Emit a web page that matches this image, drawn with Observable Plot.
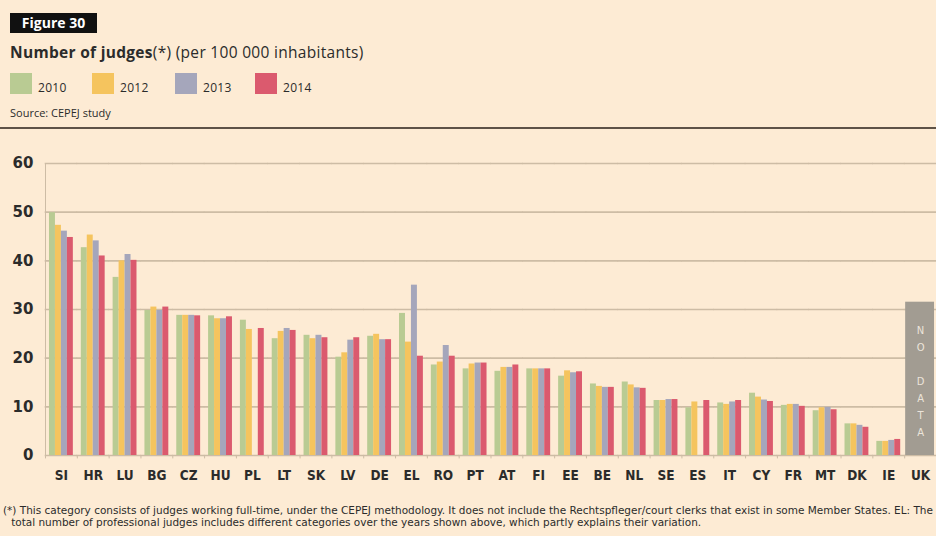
<!DOCTYPE html>
<html>
<head>
<meta charset="utf-8">
<script src="https://cdn.jsdelivr.net/npm/d3@7"></script>
<script src="https://cdn.jsdelivr.net/npm/@observablehq/plot@0.6"></script>
<style>
  html, body { margin: 0; padding: 0; background: #fdebd4; }
  #page { position: relative; width: 936px; height: 536px; overflow: hidden; background: #fdebd4; font-family: "Open Sans", "Noto Sans", sans-serif; color: #2b2b2b; }
  #fig { position: absolute; left: 10px; top: 13px; width: 87px; height: 20px; background: #111; color: #fff; font-weight: bold; font-size: 14px; line-height: 20px; text-align: center; }
  #title { position: absolute; left: 10px; top: 41px; font-size: 15.5px; white-space: nowrap; letter-spacing: 0.3px; }
  #title b { font-weight: 700; }
  #legend { position: absolute; left: 0; top: 73px; height: 22px; width: 400px; }
  .item { position: absolute; top: 0; height: 22px; font-size: 12px; letter-spacing: 0.3px; }
  .sw { position: absolute; left: 0; top: 0; width: 22px; height: 21px; }
  .lab { position: absolute; left: 28px; top: 6px; white-space: nowrap; }
  #source { position: absolute; left: 10px; top: 105px; font-size: 11px; white-space: nowrap; }
  #rule { position: absolute; left: 0; top: 127px; width: 936px; height: 2px; background: #5e5247; }
  #chart { position: absolute; left: 0; top: 140px; }
  #note { position: absolute; left: 3px; top: 505px; width: 936px; font-family: "Liberation Sans Narrow", "DejaVu Sans Condensed", sans-serif; font-size: 10px; line-height: 12px; white-space: nowrap; transform: scaleX(1.165); transform-origin: left top; }
  #note div + div { padding-left: 7px; }
</style>
</head>
<body>
<div id="page">
  <div id="fig">Figure 30</div>
  <div id="title"><b>Number of judges</b>(*) (per 100 000 inhabitants)</div>
  <div id="legend"></div>
  <div id="source">Source: CEPEJ study</div>
  <div id="rule"></div>
  <div id="chart"></div>
  <div id="note">
    <div>(*) This category consists of judges working full-time, under the CEPEJ methodology. It does not include the Rechtspfleger/court clerks that exist in some Member States. EL: The</div>
    <div>total number of professional judges includes different categories over the years shown above, which partly explains their variation.</div>
  </div>
</div>
<script>
const countries = ["SI","HR","LU","BG","CZ","HU","PL","LT","SK","LV","DE","EL","RO","PT","AT","FI","EE","BE","NL","SE","ES","IT","CY","FR","MT","DK","IE","UK"];
const years = ["2010","2012","2013","2014"];
const v2010 = [49.9,42.7,36.6,29.8,28.8,28.7,27.8,24.0,24.7,20.2,24.5,29.2,18.6,17.8,17.3,17.8,16.3,14.7,15.1,11.3,9.8,10.8,12.8,10.3,9.2,6.5,2.9,null];
const v2012 = [47.3,45.3,40.0,30.5,28.8,28.1,25.9,25.5,24.0,21.1,24.9,23.3,19.2,18.8,18.1,17.8,17.4,14.2,14.5,11.3,11.0,10.5,12.0,10.5,9.8,6.5,2.9,null];
const v2013 = [46.1,44.1,41.3,29.8,28.8,28.1,null,26.1,24.7,23.7,23.8,35.0,22.6,19.0,18.1,17.8,17.0,14.0,13.9,11.5,null,11.0,11.4,10.5,9.9,6.2,3.1,null];
const v2014 = [44.8,41.0,40.1,30.5,28.7,28.5,26.1,25.7,24.2,24.2,23.8,20.4,20.4,19.0,18.6,17.8,17.2,14.0,13.8,11.5,11.3,11.3,11.1,10.1,9.4,5.8,3.3,null];
const yTicks = [0,10,20,30,40,50,60];
const colors = ["#b9cb93","#f5c45e","#a5a6bb","#db5a6e"];
const noData = [{country: "UK", value: 31.5, label: "N\nO\n\nD\nA\nT\nA"}];

const series = [v2010, v2012, v2013, v2014];
const rows = countries.flatMap((c, i) => years.map((y, j) => ({country: c, year: y, value: series[j][i]})))
  .filter(d => d.value != null);
const boundaries = countries.map(c => ({country: c, year: years[0]}));

// legend
const legend = document.getElementById("legend");
const legX = [10, 92, 175, 255];
years.forEach((y, j) => {
  const it = document.createElement("div");
  it.className = "item";
  it.style.left = legX[j] + "px";
  it.innerHTML = `<div class="sw" style="background:${colors[j]}"></div><div class="lab">${y}</div>`;
  legend.appendChild(it);
});

const W = 936, ML = 45, MR = 0;
const step = (W - ML - MR) / countries.length;
const halfGap = step * 0.125;
const barW = step * 0.75 / years.length;
const grid = "#cdbca5";
const chart = Plot.plot({
  width: W,
  height: 360,
  marginLeft: ML,
  marginRight: MR,
  marginTop: 23,
  marginBottom: 45,
  style: {background: "transparent", fontFamily: "'Liberation Sans Narrow', 'DejaVu Sans Condensed', sans-serif"},
  fx: {domain: countries, paddingInner: 0.25, paddingOuter: 0.125, round: false, label: null, axis: null},
  x: {domain: years, padding: 0, round: false, axis: null},
  y: {domain: [0, 60], label: null, axis: null},
  color: {domain: years, range: colors},
  marks: [
    Plot.ruleY(yTicks, {stroke: grid, strokeWidth: 1.6, insetLeft: -halfGap - 0.3, insetRight: -halfGap - 0.3}),
    Plot.ruleX([boundaries[0]], {fx: "country", x: "year", y1: 0, y2: 60, dx: -(barW / 2 + halfGap), stroke: grid, strokeWidth: 1}),
    Plot.ruleX(boundaries, {fx: "country", x: "year", y1: 0, y2: -0.7, dx: -(barW / 2 + halfGap), stroke: grid, strokeWidth: 1}),
    Plot.barY(rows, {fx: "country", x: "year", y: "value", fill: "year"}),
    Plot.rectY(noData, {fx: "country", y1: 0, y2: "value", fill: "#a29c92", insetLeft: -3, insetRight: -2}),
    Plot.text(noData, {fx: "country", y: 15.6, text: "label", fill: "#ece4da", fontSize: 10, lineHeight: 1.7, fontFamily: "DejaVu Sans", lineAnchor: "middle"}),
    Plot.axisFx({anchor: "bottom", tickSize: 0, tickPadding: 15, fontSize: 13.5, fontWeight: "bold", fill: "#2b2b2b", label: null}),
    Plot.axisY({ticks: yTicks, tickSize: 0, tickPadding: 16, fontSize: 15, fontWeight: "bold", fill: "#2b2b2b", fontFamily: "DejaVu Sans", label: null})
  ]
});
document.getElementById("chart").appendChild(chart);
</script>
</body>
</html>
